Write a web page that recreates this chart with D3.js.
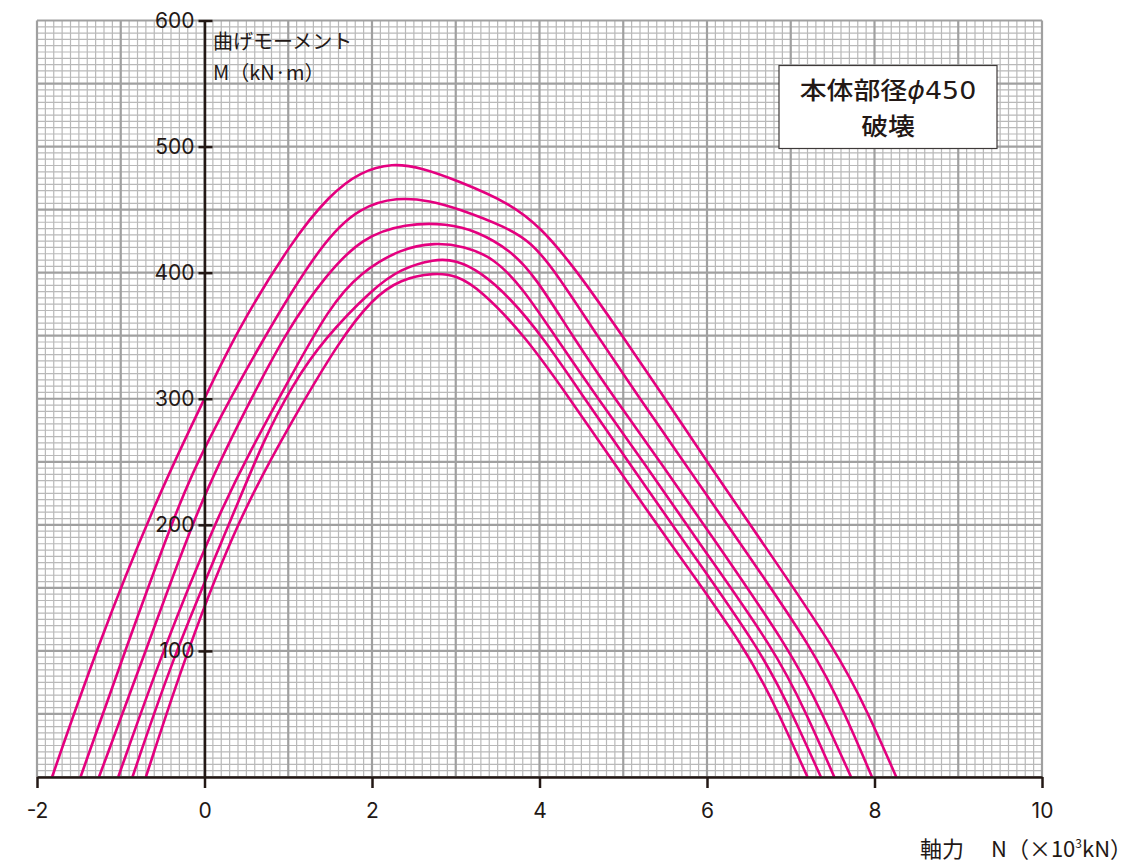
<!DOCTYPE html>
<html><head><meta charset="utf-8">
<script src="https://cdn.jsdelivr.net/npm/d3@7"></script>
<style>
body{margin:0;background:#fff;}
svg{display:block;}
text{fill:#231815;}
</style></head>
<body>
<svg id="chart" width="1147" height="865"></svg>
<script>
// ---- data (axial force N [x10^3 kN], bending moment M [kN·m]) ----
const curve1 = [[-1.82,0],[-1.30,100],[-0.58,220],[0,300],[0.37,352],[1.05,426],[1.5,462],[1.86,480],[2.24,487],[2.6,483],[3.02,473],[3.65,455],[4.01,436],[4.41,405],[5.0,349],[5.5,300],[6.0,250],[6.64,188],[7.55,100],[7.93,50],[8.26,0]];
const curve2 = [[-1.48,0],[-0.95,100],[-0.29,220],[0,262],[0.69,347],[1.42,426],[1.86,452],[2.30,460],[2.7,457],[3.02,451],[3.61,436],[3.9,424],[4.18,402],[4.70,349],[5.20,300],[5.72,250],[6.37,188],[7.28,100],[7.65,50],[7.97,0]];
const curve3 = [[-1.26,0],[-0.70,100],[-0.05,220],[0.51,294],[0.99,355],[1.45,398],[1.88,428],[2.4,439],[2.9,439],[3.25,433],[3.65,418],[3.95,397],[4.40,349],[4.90,300],[5.44,250],[6.09,188],[7.0,100],[7.38,50],[7.72,0]];
const curve4 = [[-1.03,0],[-0.50,100],[0.15,206],[0.55,259],[0.95,308],[1.50,374],[1.86,400],[2.34,419],[2.75,424],[3.1,421],[3.45,412],[3.8,388],[4.19,349],[4.70,300],[5.24,250],[5.88,188],[6.82,100],[7.19,50],[7.52,0]];
const curve5 = [[-0.86,0],[-0.35,100],[0.33,206],[0.71,268],[1.05,311],[1.42,347],[2.02,388],[2.34,403],[2.75,411],[3.0,410],[3.29,401],[3.65,380],[4.04,349],[4.54,300],[5.06,250],[5.71,188],[6.65,100],[7.02,50],[7.36,0]];
const curve6 = [[-0.70,0],[-0.21,100],[0.41,206],[1.03,281],[1.62,347],[2.0,379],[2.34,395],[2.75,400],[3.0,398],[3.29,387],[3.84,349],[4.36,300],[4.88,250],[5.53,188],[6.49,100],[6.86,50],[7.20,0]];
const curves = [curve1, curve2, curve3, curve4, curve5, curve6];

const xTicks = [-2, 0, 2, 4, 6, 8, 10];
const yTicks = [100, 200, 300, 400, 500, 600];
const yTitle = ["曲げモーメント", "M（kN·m）"];
const xTitleJa = "軸力";
const boxLines = ["本体部径", "破壊"];

// ---- scales ----
const svg = d3.select("#chart");
const x = d3.scaleLinear().domain([-2, 10]).range([37, 1042]);
const y = d3.scaleLinear().domain([0, 600]).range([777, 20.5]);
const NFONT = "Inter, 'Liberation Sans', Arial, sans-serif";
const JFONT = "'Noto Sans CJK JP', 'Liberation Sans', sans-serif";

// ---- grid ----
const g = svg.append("g");
const minorX = d3.range(-20, 101).map(i => i / 10);
const minorY = d3.range(0, 121).map(i => i * 5);
g.selectAll(".vx").data(minorX.filter(v => Math.abs(v - Math.round(v)) > 1e-6)).join("line")
  .attr("x1", d => x(d)).attr("x2", d => x(d)).attr("y1", y(0)).attr("y2", y(600))
  .attr("stroke", "#b9b9b9").attr("stroke-width", 1.2);
g.selectAll(".hy").data(minorY.filter(v => v % 50 !== 0)).join("line")
  .attr("x1", x(-2)).attr("x2", x(10)).attr("y1", d => y(d)).attr("y2", d => y(d))
  .attr("stroke", "#b9b9b9").attr("stroke-width", 1.2);
g.selectAll(".vX").data(d3.range(-2, 11)).join("line")
  .attr("x1", d => x(d)).attr("x2", d => x(d)).attr("y1", y(0)).attr("y2", y(600))
  .attr("stroke", "#a0a0a0").attr("stroke-width", 2.2);
g.selectAll(".hY").data(d3.range(0, 601, 50)).join("line")
  .attr("x1", x(-2)).attr("x2", x(10)).attr("y1", d => y(d)).attr("y2", d => y(d))
  .attr("stroke", "#a0a0a0").attr("stroke-width", 2.2);

// ---- curves ----
const line = d3.line().x(d => x(d[0])).y(d => y(d[1])).curve(d3.curveBasis);
svg.append("g").selectAll("path").data(curves).join("path")
  .attr("d", line).attr("fill", "none").attr("stroke", "#e4007f").attr("stroke-width", 2.6);

// ---- axes ----
const xAxis = svg.append("g").attr("transform", `translate(0,${y(0)})`)
  .call(d3.axisBottom(x).tickValues(xTicks).tickSizeInner(11).tickSizeOuter(0).tickPadding(15).tickFormat(d => String(d)));
xAxis.select(".domain").attr("stroke", "#231815").attr("stroke-width", 2.5);
xAxis.selectAll(".tick line").attr("stroke", "#231815").attr("stroke-width", 2.5);
xAxis.selectAll("text").attr("font-family", NFONT).attr("font-size", 21).attr("fill", "#231815");

const yAxis = svg.append("g").attr("transform", `translate(${x(0)},0)`)
  .call(d3.axisLeft(y).tickValues(yTicks).tickSizeInner(6).tickSizeOuter(0).tickPadding(4).tickFormat(d => String(d)));
yAxis.select(".domain").attr("stroke", "#231815").attr("stroke-width", 2.5);
yAxis.selectAll(".tick line").attr("x1", 8).attr("stroke", "#231815").attr("stroke-width", 2.5);
yAxis.selectAll("text").attr("font-family", NFONT).attr("font-size", 21).attr("fill", "#231815");

// ---- titles ----
svg.append("text").attr("x", 213).attr("y", 49).attr("font-family", JFONT).attr("font-size", 20).text(yTitle[0]);
svg.append("text").attr("x", 213).attr("y", 80).attr("font-family", JFONT).attr("font-size", 20).text(yTitle[1]);

const xt = svg.append("text").attr("x", 920).attr("y", 857).attr("font-family", JFONT).attr("font-size", 22);
xt.append("tspan").text(xTitleJa);
xt.append("tspan").attr("x", 991).text("N（×10");
xt.append("tspan").attr("font-size", 12).attr("dy", -9).text("3");
xt.append("tspan").attr("dy", 9).text("kN）");

// ---- label box ----
svg.append("rect").attr("x", 779).attr("y", 65.5).attr("width", 218).attr("height", 83)
  .attr("fill", "#fff").attr("stroke", "#3e3a39").attr("stroke-width", 1.2);
const b1 = svg.append("text").attr("transform", "translate(888,98.5) scale(1.12,1)").attr("text-anchor", "middle")
  .attr("font-family", JFONT).attr("font-size", 24).attr("font-weight", 500);
b1.append("tspan").text(boxLines[0]);
b1.append("tspan").attr("font-style", "italic").attr("font-family", "'DejaVu Sans', sans-serif").text("ϕ");
b1.append("tspan").attr("font-family", "'DejaVu Sans', sans-serif").text("450");
svg.append("text").attr("transform", "translate(888,135) scale(1.12,1)").attr("text-anchor", "middle")
  .attr("font-family", JFONT).attr("font-size", 24).attr("font-weight", 500).text(boxLines[1]);
</script>
</body></html>
